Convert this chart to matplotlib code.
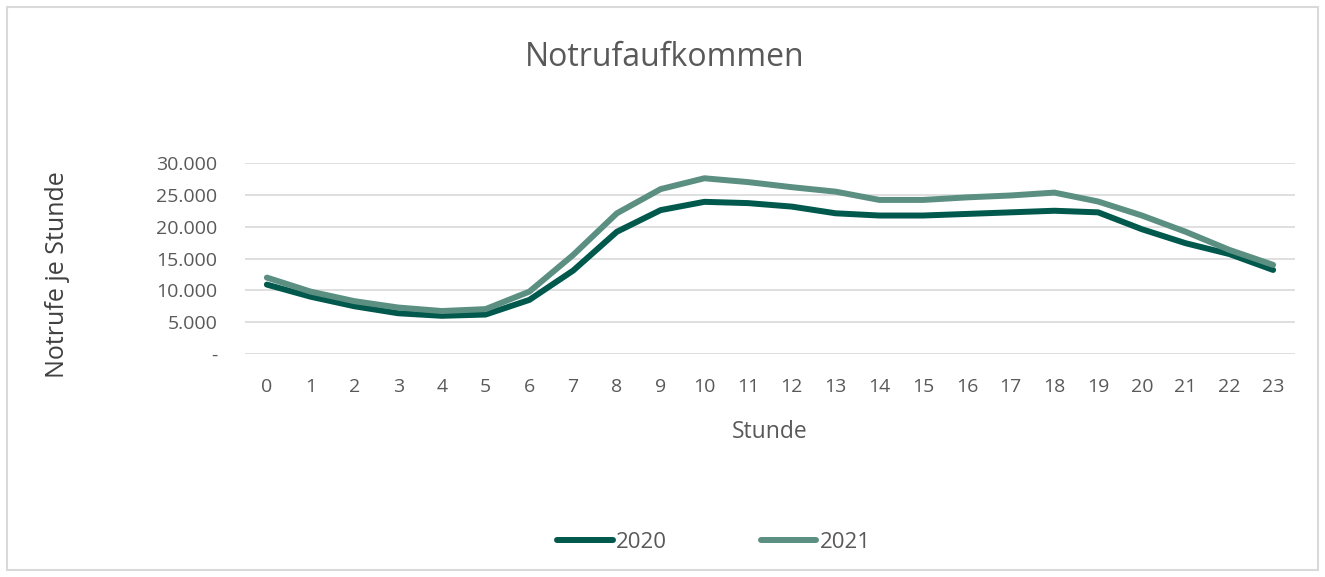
import matplotlib
matplotlib.use("Agg")
import matplotlib.pyplot as plt
from matplotlib.patches import Rectangle
from matplotlib.ticker import FuncFormatter

hours = list(range(24))
calls_2020 = [10900, 9000, 7500, 6400, 6000, 6200, 8500, 13100, 19200, 22600, 23900, 23700,
              23150, 22100, 21750, 21750, 22000, 22250, 22500, 22250, 19600, 17400, 15700, 13200]
calls_2021 = [12000, 9800, 8300, 7300, 6750, 7050, 9800, 15550, 22100, 25900, 27600, 27000,
              26200, 25500, 24200, 24200, 24600, 24900, 25350, 23950, 21750, 19200, 16350, 14000]
yticks = [0, 5000, 10000, 15000, 20000, 25000, 30000]

c2020 = "#00594C"
c2021 = "#5B8F81"
textc = "#595959"
font = "Open Sans"

fig = plt.figure(figsize=(13.25, 5.77), dpi=100)
fig.patches.append(Rectangle((7/1325, 1 - 570/577), 1311/1325, 563/577, transform=fig.transFigure,
                             fill=False, edgecolor="#D9D9D9", linewidth=1.5))

ax = fig.add_axes([245/1325, 1 - 354/577, 1050/1325, 191/577])
ax.plot(hours, calls_2020, color=c2020, lw=4.3, label="2020", solid_capstyle="round", solid_joinstyle="round")
ax.plot(hours, calls_2021, color=c2021, lw=4.3, label="2021", solid_capstyle="round", solid_joinstyle="round")

ax.set_xlim(-0.5, 23.5)
ax.set_ylim(0, 30000)
ax.set_yticks(yticks)
ax.yaxis.set_major_formatter(FuncFormatter(lambda v, p: "-" if v == 0 else f"{int(v):,}".replace(",", ".")))
ax.set_xticks(hours)
ax.set_xticklabels([str(h) for h in hours])
ax.grid(axis="y", color="#D9D9D9", lw=1.2)
ax.set_axisbelow(True)
for s in ax.spines.values():
    s.set_visible(False)
ax.tick_params(length=0, labelsize=14, labelcolor=textc)
ax.tick_params(axis="x", pad=17)
ax.tick_params(axis="y", pad=20)
for lab in ax.get_xticklabels() + ax.get_yticklabels():
    lab.set_fontfamily(font)

fig.text(665/1325, 1 - 57/577, "Notrufaufkommen", ha="center", va="center", fontsize=23, color=textc, family=font)
fig.text(770/1325, 1 - 432/577, "Stunde", ha="center", va="center", fontsize=16.5, color=textc, family=font)
fig.text(58/1325, 1 - 275/577, "Notrufe je Stunde", ha="center", va="center", rotation=90, fontsize=18, color="#404040", family=font)

leg = fig.legend(loc="center", bbox_to_anchor=(714/1325, 1 - 542/577), ncol=2, frameon=False,
                 prop={"family": font, "size": 16}, handlelength=2.5, columnspacing=4.2, handletextpad=0.15)
for t in leg.get_texts():
    t.set_color(textc)

fig.savefig("out.png", dpi=100)
